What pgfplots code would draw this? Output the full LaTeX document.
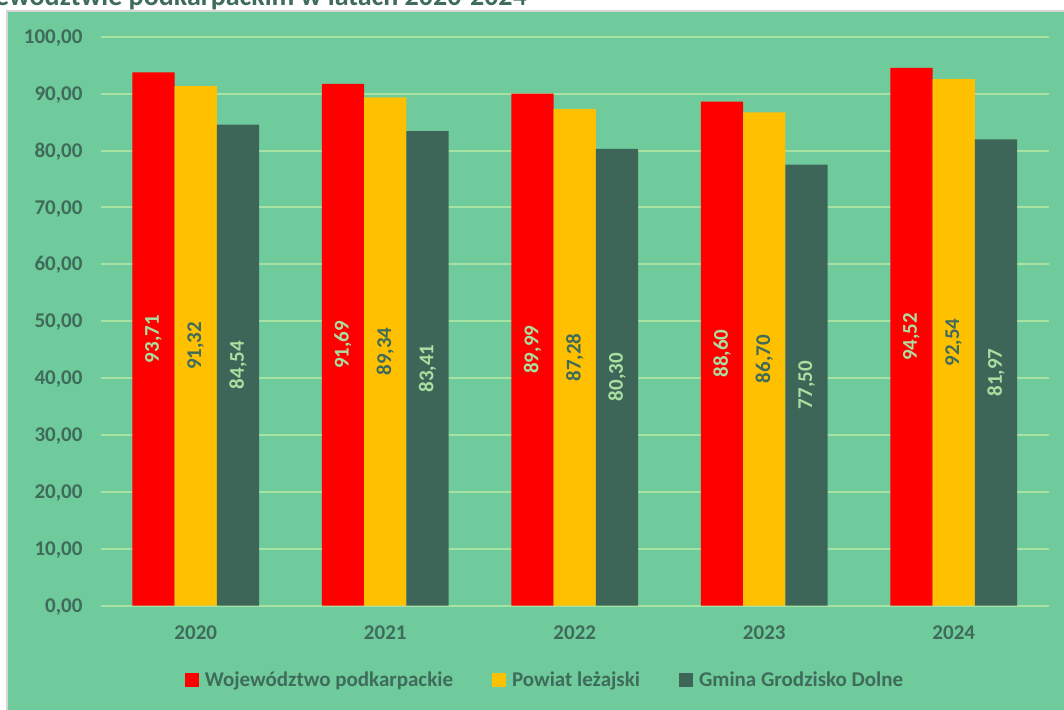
\documentclass[border=0pt]{standalone}
\usepackage{fontspec}
\setmainfont{Carlito}
\usepackage{pgfplots}
\pgfplotsset{compat=1.18}
\definecolor{bgGreen}{HTML}{6FCB9C}
\definecolor{gridGreen}{HTML}{A8E2A2}
\definecolor{barRed}{HTML}{FF0000}
\definecolor{barYellow}{HTML}{FFC000}
\definecolor{barDark}{HTML}{3D6659}
\definecolor{txtDark}{HTML}{3F6B5B}
\definecolor{lblLight}{HTML}{A9E0A1}
\definecolor{panelBorder}{HTML}{D6D6D6}

\begin{document}
\begin{tikzpicture}[x=1pt,y=1pt]
\useasboundingbox (0,0) rectangle (1064,-709);
\fill[white] (0,0) rectangle (1064,-709);
\fill[bgGreen] (7,-11) rectangle (1070,-715);
\draw[panelBorder, line width=1.6pt] (7,-715) -- (7,-11) -- (1070,-11);
% title, only its lower part shows at the top edge
\node[anchor=base east, inner sep=0pt, text=txtDark,
      font=\bfseries\fontsize{28}{33}\selectfont] at (527,-6)
  {w województwie podkarpackim w latach 2020-2024};

\begin{axis}[
  at={(101pt,-605.7pt)}, anchor=south west,
  scale only axis, width=947.5pt, height=569pt,
  xmin=-0.5, xmax=4.5, ymin=0, ymax=100,
  enlargelimits=false,
  ybar=0pt, bar width=42.3pt,
  xtick={0,1,2,3,4},
  xticklabels={2020,2021,2022,2023,2024},
  ytick={0,10,...,100},
  ymajorgrids,
  major grid style={gridGreen, line width=2pt},
  axis line style={draw=none},
  major tick length=0pt,
  /pgf/number format/fixed,
  /pgf/number format/fixed zerofill,
  /pgf/number format/precision=2,
  /pgf/number format/use comma,
  /pgf/number format/assume math mode=true,
  tick label style={font=\bfseries\fontsize{21}{25}\selectfont, text=txtDark},
  xticklabel style={anchor=base, yshift=-34pt},
  yticklabel style={anchor=base east, inner sep=0pt, xshift=-18.3pt, yshift=-6.6pt},
  visualization depends on={y \as \rawy},
  nodes near coords,
  every node near coord/.append style={
    shift={(axis direction cs:0,-\rawy/2)},
    font=\bfseries\fontsize{21}{25}\selectfont,
    rotate=90, anchor=center, inner sep=0pt},
  legend columns=3,
  legend style={at={(0.4686,-0.1306)}, anchor=center, draw=none, fill=none,
    font=\bfseries\fontsize{21}{25}\selectfont, text=txtDark,
    /tikz/every odd column/.append style={column sep=4pt},
    /tikz/every even column/.append style={column sep=37pt}},
  legend image code/.code={\fill[#1] (0pt,-7pt) rectangle (14pt,7pt);},
]
\addplot[fill=barRed, draw=none, nodes near coords style={text=lblLight}] coordinates {
  (0,93.71) (1,91.69) (2,89.99) (3,88.60) (4,94.52)
};
\addlegendentry{Województwo podkarpackie}
\addplot[fill=barYellow, draw=none, nodes near coords style={text=txtDark}] coordinates {
  (0,91.32) (1,89.34) (2,87.28) (3,86.70) (4,92.54)
};
\addlegendentry{Powiat leżajski}
\addplot[fill=barDark, draw=none, nodes near coords style={text=lblLight}] coordinates {
  (0,84.54) (1,83.41) (2,80.30) (3,77.50) (4,81.97)
};
\addlegendentry{Gmina Grodzisko Dolne}
\end{axis}
\end{tikzpicture}
\end{document}
